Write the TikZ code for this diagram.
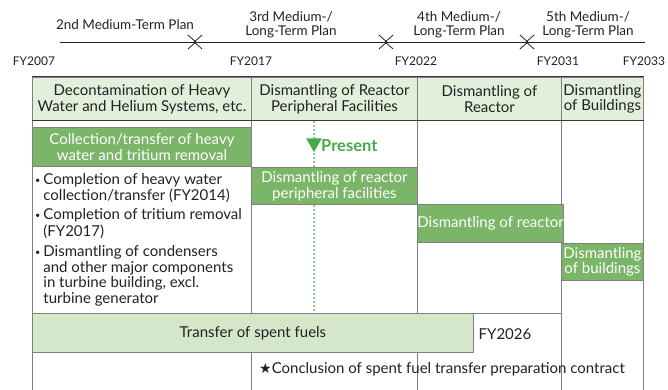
\documentclass[tikz,border=0pt]{standalone}
\usepackage{fontspec}
\setmainfont{Lato}
\newfontfamily\symfont{DejaVu Sans}
\usetikzlibrary{arrows.meta,shapes.geometric}
\definecolor{hdr}{HTML}{E2EFDA}
\definecolor{taskgreen}{HTML}{7BB568}
\definecolor{fuel}{HTML}{D4E7CA}
\definecolor{gridline}{HTML}{808080}
\definecolor{rule}{HTML}{3A3A3A}
\definecolor{now}{HTML}{45AC4D}
\definecolor{ink}{HTML}{222222}
\tikzset{barb/.tip={Straight Barb[length=8pt,width=14pt,line width=0.8pt]}}
\begin{document}
\begin{tikzpicture}[x=1pt,y=-1pt,
  txt/.style={text=ink, font=\fontsize{15}{15.7}\selectfont},
  cell/.style={draw=gridline, line width=0.9pt, anchor=north west, inner sep=0pt,
    align=center, txt},
  head/.style={cell, fill=hdr},
  blank/.style={cell, fill=white},
  work/.style={cell, fill=taskgreen, text=white},
  fuelbar/.style={cell, fill=fuel},
  plan/.style={draw=ink, line width=0.8pt},
  planlabel/.style={align=center, text=ink, inner sep=0pt,
    font=\fontsize{13.5}{14.5}\selectfont},
  fy/.style={text=ink, inner sep=0pt, font=\fontsize{12}{14}\selectfont},
  presentline/.style={draw=now, line width=2pt, line cap=round,
    dash pattern=on 0pt off 4pt}
]
\useasboundingbox (0,0) rectangle (668,390);

% ---- plan periods along the top ----
\coordinate (s0) at (60,42);
\coordinate (j1a) at (196.5,42);  \coordinate (j1b) at (193.5,42);
\coordinate (j2a) at (387.5,42);  \coordinate (j2b) at (384.5,42);
\coordinate (j3a) at (528.5,42);  \coordinate (j3b) at (525.5,42);
\coordinate (s4) at (645,42);
\draw[plan, -barb] (s0) -- (j1a);
\draw[plan, barb-barb] (j1b) -- (j2a);
\draw[plan, barb-barb] (j2b) -- (j3a);
\draw[plan, barb-] (j3b) -- (s4);

\node[planlabel] (p2) at (125,25) {2nd Medium-Term Plan};
\node[planlabel] (p3) at (291,25) {3rd Medium-/\\Long-Term Plan};
\node[planlabel] (p4) at (459,25) {4th Medium-/\\Long-Term Plan};
\node[planlabel] (p5) at (588,25) {5th Medium-/\\Long-Term Plan};

\node[fy] (fy07) at (34,61) {FY2007};
\node[fy] (fy17) at (251,61) {FY2017};
\node[fy] (fy22) at (416,61) {FY2022};
\node[fy] (fy31) at (558,61) {FY2031};
\node[fy] (fy33) at (644,61) {FY2033};

% ---- column headers ----
\node[head, minimum width=219pt, minimum height=43pt] (h1) at (32,77)
  {Decontamination of Heavy\\Water and Helium Systems, etc.};
\node[head, minimum width=166pt, minimum height=43pt] (h2) at (251,77)
  {Dismantling of Reactor\\Peripheral Facilities};
\node[head, minimum width=144pt, minimum height=43pt] (h3) at (417,77)
  {Dismantling of\\Reactor};
\node[head, minimum width=82pt, minimum height=43pt] (h4) at (561,77)
  {Dismantling\\of Buildings};

% ---- white background cells ----
\node[blank, minimum width=219pt, minimum height=7pt] (c1a) at (32,120) {};
\node[blank, minimum width=219pt, minimum height=147pt] (c1c) at (32,166) {};
\node[blank, minimum width=166pt, minimum height=47pt] (c2a) at (251,120) {};
\node[blank, minimum width=166pt, minimum height=109pt] (c2c) at (251,204) {};
\node[blank, minimum width=144pt, minimum height=84pt] (c3a) at (417,120) {};
\node[blank, minimum width=144pt, minimum height=71pt] (c3c) at (417,242) {};
\node[blank, minimum width=82pt, minimum height=123pt] (c4a) at (561,120) {};
\node[blank, minimum width=82pt, minimum height=120pt] (c4c) at (561,280) {};
\node[blank, minimum width=219pt, minimum height=48pt] (c1d) at (32,352) {};
\node[blank, minimum width=166pt, minimum height=48pt] (c2d) at (251,352) {};
\node[blank, minimum width=144pt, minimum height=88pt] (c3d) at (417,313) {};

% header rules
\draw[rule, line width=1pt] (h1.north west) -- (h4.north east);
\draw[rule, line width=1pt] (h1.south west) -- (h4.south east);

% ---- present marker ----
\coordinate (nowtop) at (314,122);
\coordinate (nowbot) at (314,312);
\draw[presentline] (nowtop) -- (nowbot);
\node[regular polygon, regular polygon sides=3, shape border rotate=180,
  fill=now, inner sep=0pt, minimum size=18pt] (tri) at (314,143) {};
\node[anchor=west, inner sep=0pt, text=now,
  font=\fontsize{16.5}{18}\selectfont\bfseries] (present) at (321,146) {Present};

% ---- work packages ----
\node[work, minimum width=219pt, minimum height=39pt] (w1) at (32,127)
  {Collection/transfer of heavy\\water and tritium removal};
\node[work, minimum width=166pt, minimum height=37pt] (w2) at (251,167)
  {Dismantling of reactor\\peripheral facilities};
\node[work, minimum width=144pt, minimum height=38pt] (w3) at (417,204)
  {Dismantling of reactor};
\node[work, minimum width=82pt, minimum height=37pt] (w4) at (561,243)
  {Dismantling\\of buildings};

\node[anchor=north west, inner sep=0pt, txt, align=left] (notes) at (35,173)
  {\begin{tabular}{@{}l@{\hspace{3pt}}l@{}}
   \raisebox{1pt}{\small•}&Completion of heavy water\\
   &collection/transfer (FY2014)\\[3.5pt]
   \raisebox{1pt}{\small•}&Completion of tritium removal\\
   &(FY2017)\\[4.5pt]
   \raisebox{1pt}{\small•}&Dismantling of condensers\\
   &and other major components\\
   &in turbine building, excl.\\
   &turbine generator
   \end{tabular}};

% ---- spent fuel transfer ----
\node[fuelbar, minimum width=441pt, minimum height=39pt] (fuel) at (32,313)
  {Transfer of spent fuels};
\node[txt, inner sep=0pt] (fy26) at (505,334) {FY2026};
\node[txt, anchor=west, inner sep=0pt] (contract) at (259,369)
  {{\symfont\fontsize{14}{15}\selectfont ★}Conclusion of spent fuel transfer preparation contract};
\end{tikzpicture}
\end{document}
